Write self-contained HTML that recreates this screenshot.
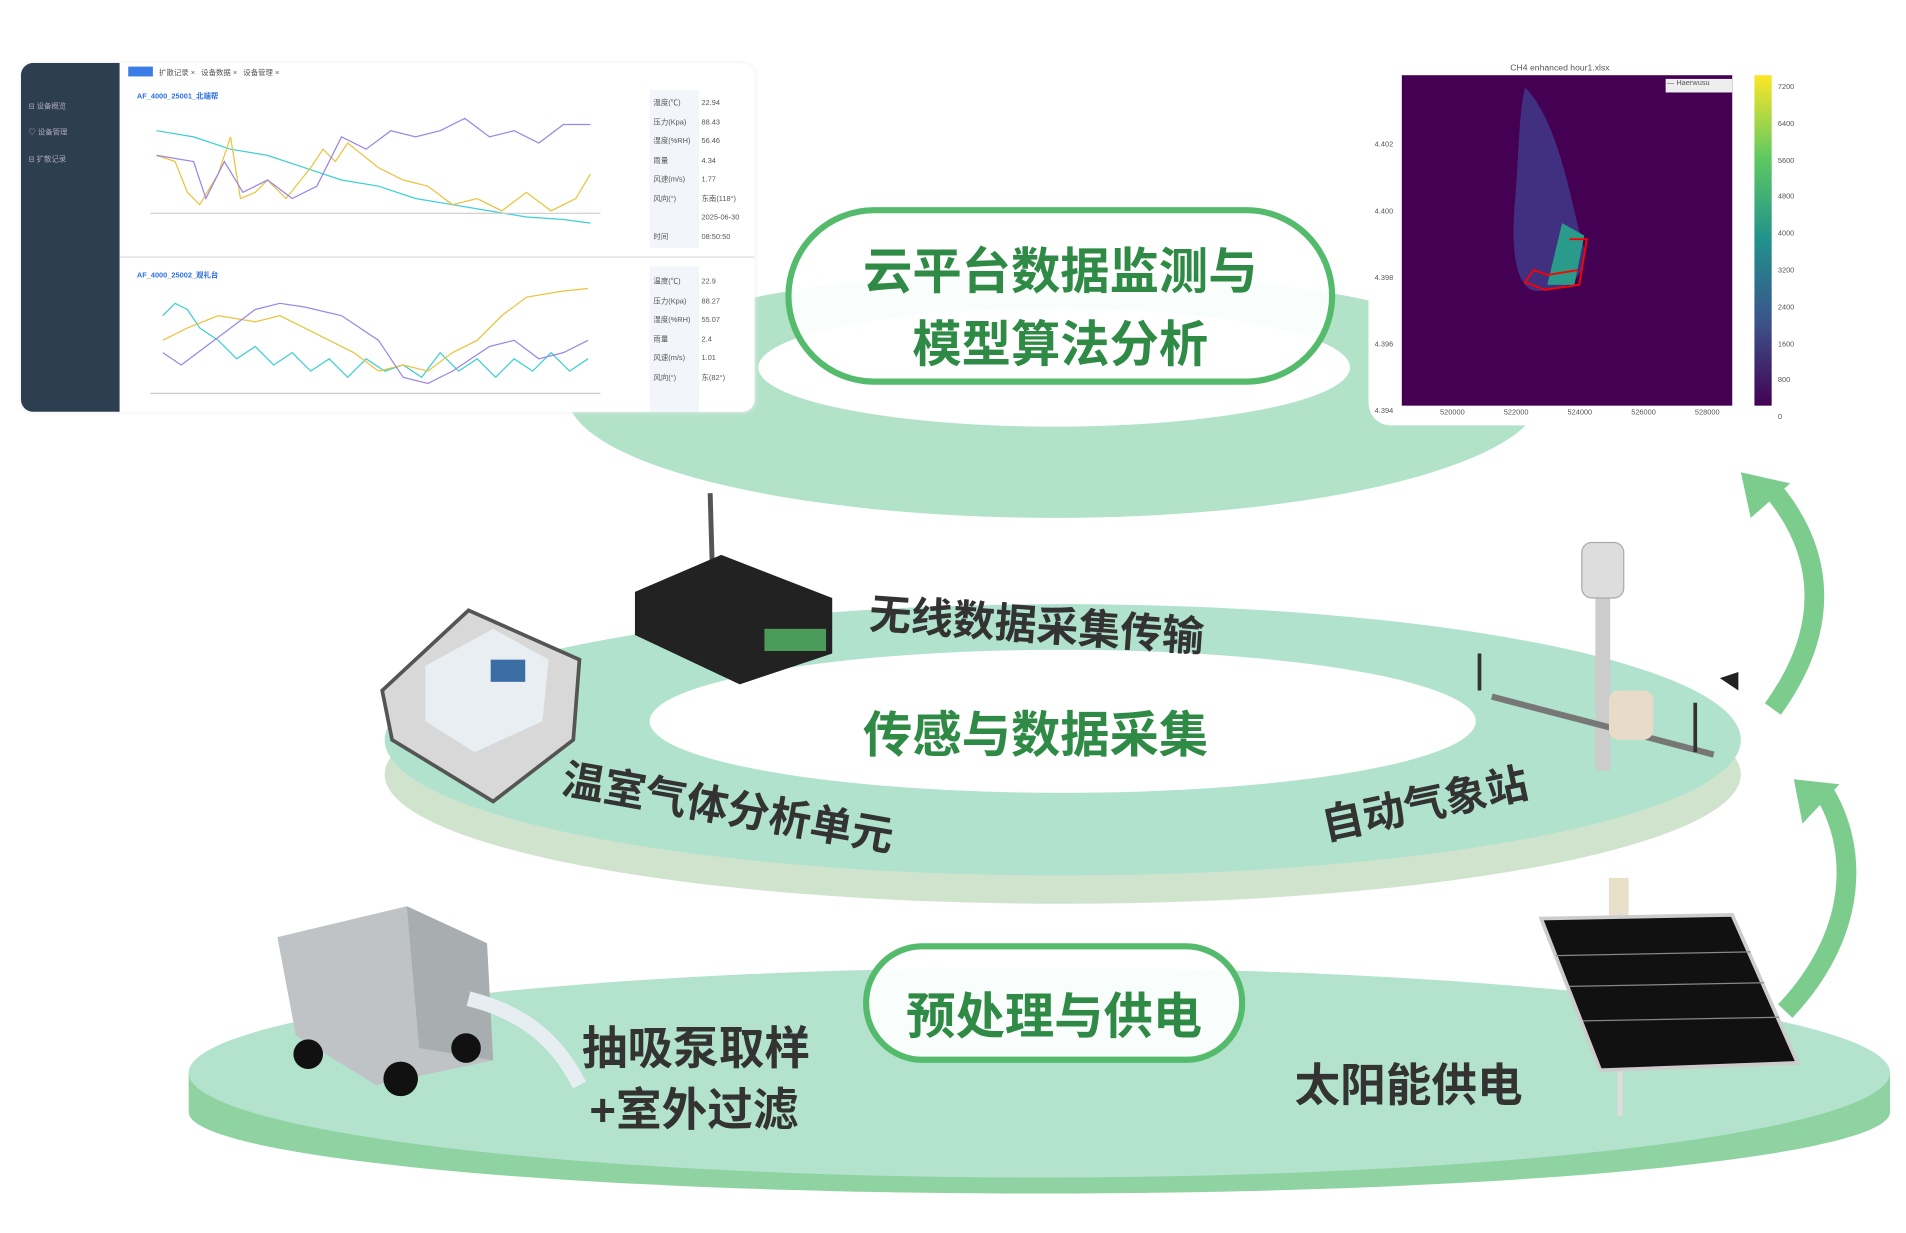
<!DOCTYPE html>
<html><head><meta charset="utf-8"><style>
html,body{margin:0;padding:0;background:#fff;overflow:hidden}
#w{position:absolute;left:0;top:0;width:1546px;height:1000px;transform:scale(1.2329,1.233);transform-origin:0 0;font-family:"Liberation Sans","Noto Sans CJK SC",sans-serif}
.a{position:absolute}
.g{color:#2f8a45;font-weight:bold;font-size:40px;white-space:nowrap}
.d{color:#333;font-weight:bold;font-size:34px;white-space:nowrap}
.pill{position:absolute;border:5px solid #55bb6c;background:rgba(255,255,255,0.92);box-sizing:border-box}
.t{font-size:6px;color:#555;white-space:nowrap}
</style></head><body><div id="w">
<svg class="a" style="left:0;top:0" width="1546" height="1000">
 <!-- bottom disk -->
 <ellipse cx="843" cy="902" rx="690" ry="66" fill="#8fd3a2"/>
 <rect x="153" y="870" width="1380" height="32" fill="#8fd3a2"/>
 <ellipse cx="843" cy="870" rx="690" ry="85" fill="#b3e3cc"/>
 <!-- middle ring -->
 <ellipse cx="862" cy="628" rx="550" ry="105" fill="#cfe3cd"/>
 <ellipse cx="862" cy="600" rx="550" ry="110" fill="#b0e2ce"/>
 <ellipse cx="862" cy="585" rx="335" ry="58" fill="#fff"/>
 <!-- top ring -->
 <ellipse cx="855" cy="320" rx="395" ry="100" fill="#b2e2c8"/>
 <ellipse cx="855" cy="298" rx="240" ry="48" fill="#fff"/>
 <!-- arrows -->
 <path d="M1448,820 C1505,760 1510,690 1478,640" stroke="#7ccc8e" stroke-width="16" fill="none"/>
 <polygon points="1455,632 1492,636 1462,668" fill="#7ccc8e"/>
 <path d="M1438,575 C1485,510 1480,450 1440,400" stroke="#7ccc8e" stroke-width="16" fill="none"/>
 <polygon points="1412,383 1452,392 1420,420" fill="#7ccc8e"/>
 <!-- solar panel -->
 <rect x="1305" y="712" width="16" height="40" fill="#e8e0c8"/>
 <rect x="1312" y="740" width="4" height="165" fill="#ddd"/>
 <polygon points="1250,745 1405,742 1458,862 1298,868" fill="#111" stroke="#ccc" stroke-width="3"/>
 <g stroke="#888" stroke-width="1"><line x1="1262" y1="775" x2="1420" y2="772"/><line x1="1273" y1="800" x2="1431" y2="797"/><line x1="1284" y1="828" x2="1443" y2="825"/></g>
 <!-- weather station -->
 <rect x="1294" y="470" width="12" height="155" fill="#ccc"/>
 <rect x="1283" y="440" width="34" height="45" rx="8" fill="#ddd" stroke="#aaa"/>
 <line x1="1210" y1="565" x2="1390" y2="612" stroke="#777" stroke-width="5"/>
 <rect x="1305" y="560" width="36" height="40" rx="8" fill="#e8dcc8"/>
 <line x1="1200" y1="530" x2="1200" y2="560" stroke="#333" stroke-width="3"/>
 <line x1="1375" y1="570" x2="1375" y2="610" stroke="#333" stroke-width="3"/>
 <polygon points="1395,550 1410,545 1410,560" fill="#222"/>
 <!-- pump -->
 <polygon points="225,760 330,735 395,765 400,860 305,880 240,840" fill="#bfc3c6"/>
 <polygon points="330,735 395,765 400,860 340,850" fill="#a8adb0"/>
 <circle cx="250" cy="855" r="12" fill="#111"/><circle cx="325" cy="875" r="14" fill="#111"/><circle cx="378" cy="850" r="12" fill="#111"/>
 <path d="M380,810 C420,820 450,840 470,880" stroke="#e6eef2" stroke-width="12" fill="none"/>
 <!-- gas analyzer -->
 <polygon points="310,560 380,495 470,535 465,600 400,650 318,600" fill="#d8d8d8" stroke="#555" stroke-width="3"/>
 <polygon points="345,540 400,510 445,535 440,585 385,610 345,585" fill="#e9eef2"/>
 <rect x="398" y="535" width="28" height="18" fill="#3b6ea5"/>
 <!-- logger -->
 <line x1="576" y1="400" x2="578" y2="470" stroke="#555" stroke-width="4"/>
 <polygon points="515,480 585,450 675,485 675,530 600,555 515,515" fill="#222"/>
 <rect x="620" y="510" width="50" height="18" fill="#4a9a5a"/>
</svg>

<!-- dashboard -->
<div class="a" style="left:17px;top:51px;width:595px;height:283px;background:#fff;border-radius:10px;box-shadow:0 0 4px #eee;overflow:hidden">
 <div class="a" style="left:0;top:0;width:80px;height:283px;background:#2e3e51"></div>
 <div class="a t" style="left:6px;top:30px;color:#aab">⊟ 设备概览</div>
 <div class="a t" style="left:6px;top:51px;color:#aab">♡ 设备管理</div>
 <div class="a t" style="left:6px;top:73px;color:#aab">⊟ 扩散记录</div>
 <div class="a" style="left:87px;top:3px;width:20px;height:8px;background:#3b7de8"></div>
 <div class="a t" style="left:112px;top:3px">扩散记录 × &nbsp; 设备数据 × &nbsp; 设备管理 ×</div>
 <div class="a t" style="left:94px;top:22px;color:#2d6fe0;font-weight:bold">AF_4000_25001_北端帮</div>
 <div class="a t" style="left:94px;top:167px;color:#2d6fe0;font-weight:bold">AF_4000_25002_观礼台</div>
 <div class="a" style="left:80px;top:157px;width:515px;height:1px;background:#ddd"></div>
 <div class="a" style="left:510px;top:22px;width:40px;height:128px;background:#f2f5fa"></div>
 <div class="a" style="left:510px;top:165px;width:40px;height:118px;background:#f2f5fa"></div>
 <div class="a t" style="left:513px;top:26px;line-height:15.5px">温度(℃)<br>压力(Kpa)<br>湿度(%RH)<br>雨量<br>风速(m/s)<br>风向(°)<br><br>时间</div>
 <div class="a t" style="left:552px;top:26px;line-height:15.5px">22.94<br>88.43<br>56.46<br>4.34<br>1.77<br>东南(118°)<br>2025-06-30<br>08:50:50</div>
 <div class="a t" style="left:513px;top:171px;line-height:15.5px">温度(℃)<br>压力(Kpa)<br>湿度(%RH)<br>雨量<br>风速(m/s)<br>风向(°)</div>
 <div class="a t" style="left:552px;top:171px;line-height:15.5px">22.9<br>88.27<br>55.07<br>2.4<br>1.01<br>东(82°)</div>
 <svg class="a" style="left:0;top:0" width="510" height="283">
  <g fill="none" stroke-width="1">
  <polyline stroke="#3ccfd6" points="110,55 140,60 170,70 200,75 230,85 260,95 290,100 320,110 350,115 380,120 410,125 440,127 462,130"/>
  <polyline stroke="#e8c440" points="110,75 125,80 135,105 145,115 160,90 170,60 178,110 190,105 200,95 215,110 235,85 245,70 255,80 265,65 290,85 310,95 330,100 350,115 370,110 390,120 410,105 430,120 450,110 462,90"/>
  <polyline stroke="#9a86e6" points="110,75 140,80 150,110 165,80 180,105 200,95 220,110 240,100 260,60 280,70 300,55 320,60 340,55 360,45 380,60 400,55 420,65 440,50 462,50"/>
  <polyline stroke="#3ccfd6" points="115,205 125,195 135,200 145,215 160,225 175,240 190,230 205,245 220,235 235,250 250,240 265,255 280,240 295,250 310,245 325,255 340,235 355,250 370,240 385,255 400,240 415,250 430,235 445,250 460,240"/>
  <polyline stroke="#e8c440" points="115,225 135,215 160,205 190,210 210,205 230,215 250,225 270,235 290,250 310,245 330,250 350,235 370,225 390,205 410,190 440,185 460,183"/>
  <polyline stroke="#9a86e6" points="115,235 130,245 150,230 170,215 190,200 210,195 230,198 260,205 290,225 310,255 330,260 350,250 380,230 400,225 420,240 440,235 460,225"/>
  </g>
  <line x1="105" y1="122" x2="470" y2="122" stroke="#ccc"/><line x1="105" y1="268" x2="470" y2="268" stroke="#ccc"/>
 </svg>
</div>

<!-- heatmap -->
<div class="a" style="left:1110px;top:52px;width:365px;height:293px;background:#fff;border-radius:18px"></div>
<div class="a t" style="left:1225px;top:52px;font-size:7px">CH4 enhanced hour1.xlsx</div>
<div class="a" style="left:1137px;top:61px;width:268px;height:268px;background:#440154"></div>
<svg class="a" style="left:1137px;top:61px" width="268" height="268">
 <path d="M100,10 C130,40 140,120 148,140 C150,160 140,175 110,175 C92,175 88,140 92,100 C95,60 95,30 100,10Z" fill="#413b8a" opacity="0.8"/>
 <path d="M130,120 L148,130 L140,170 L118,170Z" fill="#2a9b8a"/>
 <polyline points="136,133 150,133 144,170 116,174 100,168 107,158 118,162 143,158" stroke="#f00" stroke-width="1.5" fill="none"/>
 <rect x="214" y="3" width="54" height="11" fill="#eee"/>
</svg>
<div class="a t" style="left:1352px;top:65px">— Haerwusu</div>
<div class="a" style="left:1423px;top:61px;width:14px;height:268px;background:linear-gradient(#fde725,#5ec962 25%,#21918c 50%,#3b528b 75%,#440154)"></div>
<div class="a t" style="left:1442px;top:57px;line-height:29.8px">7200<br>6400<br>5600<br>4800<br>4000<br>3200<br>2400<br>1600<br>800<br>0</div>
<div class="a t" style="left:1115px;top:91px;line-height:54px">4.402<br>4.400<br>4.398<br>4.396<br>4.394</div>
<div class="a t" style="left:1168px;top:332px;word-spacing:30px">520000 522000 524000 526000 528000</div>

<!-- labels -->
<div class="pill" style="left:637px;top:168px;width:446px;height:144px;border-radius:72px"></div>
<div class="a g" style="left:637px;top:188px;width:446px;text-align:center">云平台数据监测与</div>
<div class="a g" style="left:637px;top:247px;width:446px;text-align:center">模型算法分析</div>
<div class="a g" style="left:700px;top:564px">传感与数据采集</div>
<div class="a d" style="left:705px;top:480px;transform:rotate(4deg)">无线数据采集传输</div>
<div class="a d" style="left:455px;top:628px;transform:rotate(10deg)">温室气体分析单元</div>
<div class="a d" style="left:1070px;top:625px;transform:rotate(-12deg)">自动气象站</div>
<div class="pill" style="left:700px;top:765px;width:310px;height:97px;border-radius:48px"></div>
<div class="a g" style="left:700px;top:792px;width:310px;text-align:center">预处理与供电</div>
<div class="a d" style="left:472px;top:820px;font-size:37px">抽吸泵取样</div>
<div class="a d" style="left:478px;top:870px;font-size:37px">+室外过滤</div>
<div class="a d" style="left:1050px;top:850px;font-size:37px">太阳能供电</div>
</div></body></html>
